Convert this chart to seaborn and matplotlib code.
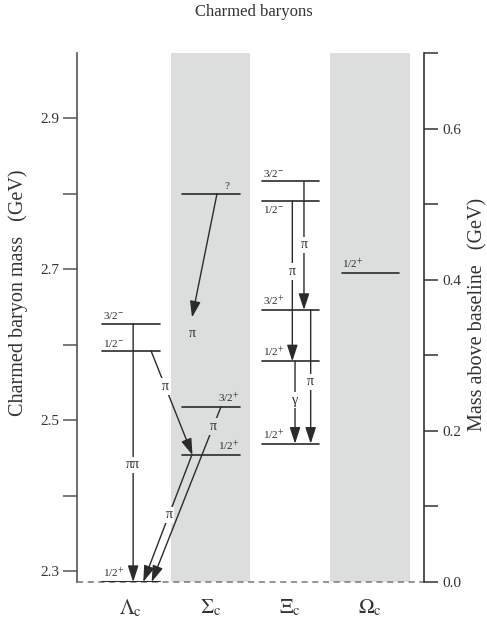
import numpy as np
import pandas as pd
import matplotlib
matplotlib.use("Agg")
import matplotlib.pyplot as plt
from matplotlib.ticker import FixedLocator
import seaborn as sns

# ---------------- data ----------------
categories = [r"$\Lambda_{\mathrm{c}}$", r"$\Sigma_{\mathrm{c}}$", r"$\Xi_{\mathrm{c}}$", r"$\Omega_{\mathrm{c}}$"]

lambda_c_mass = [2.286, 2.592, 2.628]
lambda_c_jp = ["1/2+", "1/2-", "3/2-"]
sigma_c_mass = [2.454, 2.518, 2.800]
sigma_c_jp = ["1/2+", "3/2+", "?"]
xi_c_mass = [2.469, 2.578, 2.646, 2.790, 2.816]
xi_c_jp = ["1/2+", "1/2+", "3/2+", "1/2-", "3/2-"]
omega_c_mass = [2.695]
omega_c_jp = ["1/2+"]

baseline_mass = 2.286

# transitions: (from category, from mass, to category, to mass, emitted particle)
trans_from_cat = [0, 0, 1, 1, 2, 2, 2, 2]
trans_from_mass = [2.628, 2.592, 2.454, 2.518, 2.816, 2.790, 2.646, 2.578]
trans_to_cat = [0, 1, 0, 0, 2, 2, 2, 2]
trans_to_mass = [2.286, 2.454, 2.286, 2.286, 2.646, 2.578, 2.469, 2.469]
trans_label = ["ππ", "π", "π", "π", "π", "π", "π", "γ"]

# unresolved Sigma_c(2800) decay
unk_from_mass = 2.800
unk_to_mass = 2.636
unk_label = "π"

left_major = [2.3, 2.5, 2.7, 2.9]
left_minor = [2.4, 2.6, 2.8]
right_major = [0.0, 0.2, 0.4, 0.6]
right_minor = [0.1, 0.3, 0.5, 0.7]

# ---------------- style ----------------
sns.set_theme(style="white")
plt.rcParams["font.family"] = ["Liberation Serif", "DejaVu Serif"]
plt.rcParams["mathtext.fontset"] = "stix"

ink = "#2b2b2b"
band_color = "#dcdddd"

fig = plt.figure(figsize=(4.87, 6.34), dpi=100)
ax = fig.add_axes([77 / 487, 52 / 634, 347 / 487, 529 / 634])
ax.set_xlim(-0.674, 3.677)
ax.set_ylim(baseline_mass, baseline_mass + 0.70)

# shaded bands for Sigma_c and Omega_c
for c in (1, 3):
    ax.axvspan(c - 0.5, c + 0.5, color=band_color, lw=0, zorder=0)

# baseline
ax.axhline(baseline_mass, color="#777777", lw=1.1, ls=(0, (4, 3)), zorder=1, clip_on=False)

# ---------------- levels ----------------
half = 0.355
rows = []
level_sets = [(0, lambda_c_mass, lambda_c_jp), (1, sigma_c_mass, sigma_c_jp),
              (2, xi_c_mass, xi_c_jp), (3, omega_c_mass, omega_c_jp)]
uid = 0
for c, masses, jps in level_sets:
    for m, jp in zip(masses, jps):
        rows.append({"x": c - half, "m": m, "u": uid})
        rows.append({"x": c + half + 0.01, "m": m, "u": uid})
        uid += 1
levels = pd.DataFrame(rows)
sns.lineplot(data=levels, x="x", y="m", units="u", estimator=None, color=ink,
             lw=1.2, ax=ax, zorder=3, legend=False)
ax.set_xlabel("")
ax.set_ylabel("")
# heavier ground state line
ax.plot([0 - half - 0.02, 0 + half + 0.01], [baseline_mass, baseline_mass], color=ink, lw=2.2,
        zorder=3, solid_capstyle="butt")


def jp_text(jp):
    if jp == "?":
        return "?"
    sign = "+" if jp.endswith("+") else "-"
    return r"$\mathregular{" + jp[:-1] + "}^{" + sign + "}$"


lab_fs = 8
for c, masses, jps in level_sets:
    for m, jp in zip(masses, jps):
        if c == 1:
            if jp == "?":
                ax.annotate("?", (c + half - 0.12, m), xytext=(0, 1.5), textcoords="offset points",
                            ha="right", va="bottom", fontsize=lab_fs, color=ink)
            else:
                ax.annotate(jp_text(jp), (c + half, m), xytext=(0, 1.5), textcoords="offset points",
                            ha="right", va="bottom", fontsize=lab_fs, color=ink)
        elif c == 2 and jp == "1/2-":
            ax.annotate(jp_text(jp), (c - half + 0.01, m), xytext=(0, -2), textcoords="offset points",
                        ha="left", va="top", fontsize=lab_fs, color=ink)
        else:
            ax.annotate(jp_text(jp), (c - half + 0.01, m), xytext=(0, 1.5), textcoords="offset points",
                        ha="left", va="bottom", fontsize=lab_fs, color=ink)

# ---------------- transitions ----------------
# horizontal offsets of the arrow ends from category centres (layout only)
start_off = [0.03, 0.254, -0.234, 0.132, 0.172, 0.026, 0.256, 0.06]
end_off = [0.03, -0.226, 0.157, 0.262, 0.172, 0.026, 0.256, 0.06]
label_frac = [0.547, 0.343, 0.47, 0.113, 0.494, 0.44, 0.537, 0.47]

arrow_kw = dict(arrowstyle="-|>,head_length=0.55,head_width=0.18", color=ink, lw=1.0,
                shrinkA=0, shrinkB=0, mutation_scale=18)

for i in range(len(trans_label)):
    x0 = trans_from_cat[i] + start_off[i]
    y0 = trans_from_mass[i]
    x1 = trans_to_cat[i] + end_off[i]
    y1 = trans_to_mass[i]
    ax.annotate("", xy=(x1, y1), xytext=(x0, y0), arrowprops=arrow_kw, zorder=4)
    t = label_frac[i]
    lx = x0 + (x1 - x0) * t
    ly = y0 + (y1 - y0) * t
    bg = band_color if (0.5 < lx < 1.5 or 2.5 < lx < 3.5) else "white"
    ax.text(lx, ly, trans_label[i], ha="center", va="center", fontsize=10, color=ink, zorder=5,
            bbox=dict(boxstyle="square,pad=0.12", fc=bg, ec="none"))

# Sigma_c(2800) -> pi
ax.annotate("", xy=(0.768, unk_to_mass), xytext=(1.082, unk_from_mass), arrowprops=arrow_kw, zorder=4)
ax.text(0.768, unk_to_mass - 0.021, unk_label, ha="center", va="center", fontsize=10, color=ink, zorder=5)

# ---------------- axes ----------------
for s in ("top", "bottom", "right"):
    ax.spines[s].set_visible(False)
ax.spines["left"].set_color("#555555")
ax.spines["left"].set_linewidth(1.2)
ax.yaxis.set_major_locator(FixedLocator(left_major))
ax.yaxis.set_minor_locator(FixedLocator(left_minor))
ax.set_yticklabels([f"{v:.1f}" for v in left_major])
ax.tick_params(axis="y", which="both", direction="out", length=10, width=1.1, color="#555555",
               labelsize=11, labelcolor="#333333", pad=3, left=True)
ax.set_xticks(range(len(categories)))
ax.set_xticklabels(categories, fontsize=15, color="#333333")
ax.tick_params(axis="x", length=0, pad=11)

ax2 = ax.twinx()
ax2.set_ylim(0, 0.70)
for s in ("top", "bottom", "left"):
    ax2.spines[s].set_visible(False)
ax2.spines["right"].set_color("#333333")
ax2.spines["right"].set_linewidth(1.2)
ax2.yaxis.set_major_locator(FixedLocator(right_major))
ax2.yaxis.set_minor_locator(FixedLocator(right_minor))
ax2.set_yticklabels([f"{v:.1f}" for v in right_major])
ax2.tick_params(axis="y", which="both", direction="out", length=10, width=1.1, color="#333333",
                labelsize=11, labelcolor="#333333", pad=3, right=True)
ax2.grid(False)
ax.grid(False)

fig.text(254 / 487, 1 - 12 / 634, "Charmed baryons", ha="center", va="center", fontsize=12, color="#333333")
fig.text(18 / 487, 1 - 293 / 634, "Charmed baryon mass   (GeV)", rotation=90, ha="center", va="center",
         fontsize=14.5, color="#333333")
fig.text(478 / 487, 1 - 314 / 634, "Mass above baseline   (GeV)", rotation=90, ha="center", va="center",
         fontsize=14.5, color="#333333")

fig.savefig("out.png", dpi=100)
